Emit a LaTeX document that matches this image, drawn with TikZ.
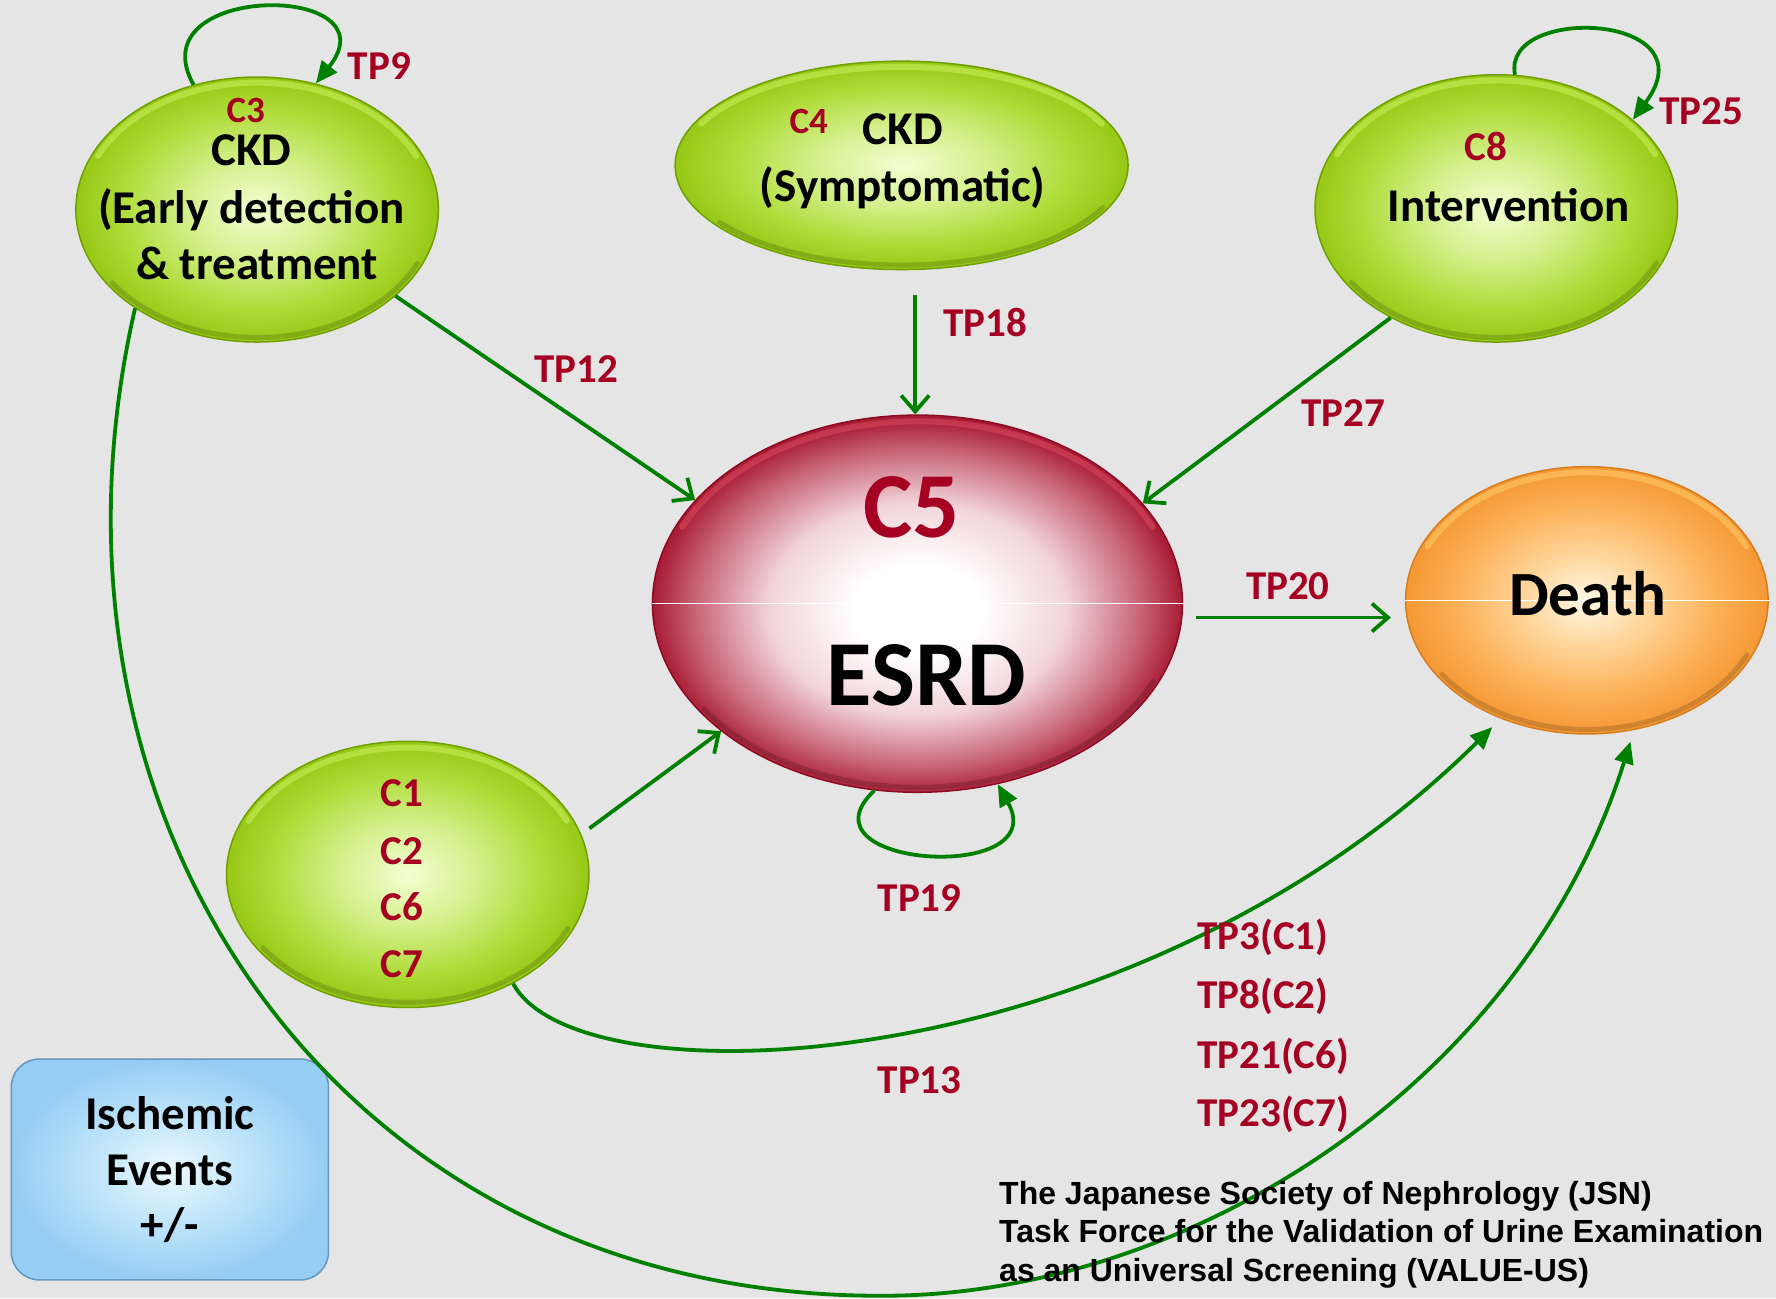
\documentclass[tikz,border=0pt]{standalone}
\usepackage{fontspec}
\setmainfont{Carlito}
\newfontfamily\footfont{Liberation Sans}
\usetikzlibrary{shapes.geometric,arrows.meta,calc}

\definecolor{bgc}{RGB}{229,229,229}
\definecolor{tpred}{RGB}{165,0,33}
\definecolor{arrg}{RGB}{0,128,0}
\definecolor{gA}{RGB}{242,255,210}
\definecolor{gB}{RGB}{214,241,145}
\definecolor{gC}{RGB}{174,219,55}
\definecolor{gD}{RGB}{150,200,22}
\definecolor{gR}{RGB}{112,160,0}
\definecolor{gH}{RGB}{205,240,95}
\definecolor{rA}{RGB}{255,255,255}
\definecolor{rB}{RGB}{242,212,218}
\definecolor{rC}{RGB}{200,100,118}
\definecolor{rD}{RGB}{168,28,52}
\definecolor{rR}{RGB}{140,10,35}
\definecolor{rH}{RGB}{220,75,95}
\definecolor{oA}{RGB}{255,249,230}
\definecolor{oB}{RGB}{255,216,160}
\definecolor{oC}{RGB}{252,176,86}
\definecolor{oD}{RGB}{244,152,52}
\definecolor{oR}{RGB}{215,125,30}
\definecolor{oH}{RGB}{255,205,105}
\definecolor{bA}{RGB}{236,250,255}
\definecolor{bB}{RGB}{192,229,250}
\definecolor{bC}{RGB}{150,205,245}
\definecolor{bR}{RGB}{100,150,190}

\pgfdeclareradialshading{greenball}{\pgfpoint{0bp}{0bp}}{color(0bp)=(gA); color(9bp)=(gB); color(19bp)=(gC); color(25bp)=(gD); color(50bp)=(gD)}
\pgfdeclareradialshading{redball}{\pgfpoint{0bp}{-1bp}}{color(0bp)=(rA); color(6bp)=(rA); color(14bp)=(rB); color(21bp)=(rC); color(25bp)=(rD); color(50bp)=(rD)}
\pgfdeclareradialshading{orangeball}{\pgfpoint{0bp}{0bp}}{color(0bp)=(oA); color(8bp)=(oB); color(18bp)=(oC); color(25bp)=(oD); color(50bp)=(oD)}
\pgfdeclareradialshading{bluebox}{\pgfpoint{0bp}{0bp}}{color(0bp)=(bA); color(12bp)=(bB); color(25bp)=(bC); color(50bp)=(bC)}

\begin{document}
\begin{tikzpicture}[x=1.1327pt,y=1.1327pt,
  gball/.style={ellipse, inner sep=0pt, shading=greenball, draw=gR, line width=1.5pt},
  rball/.style={ellipse, inner sep=0pt, shading=redball, draw=rR, line width=1.5pt},
  oball/.style={ellipse, inner sep=0pt, shading=orangeball, draw=oR, line width=1.5pt},
  bboxst/.style={rectangle, rounded corners=28pt, inner sep=0pt, shading=bluebox, draw=bR, line width=1.5pt},
  hl/.style={line width=6pt, draw opacity=0.55, line cap=round},
  shd/.style={line width=5pt, draw=black, draw opacity=0.15, line cap=round},
  maintxt/.style={font=\fontsize{47}{56}\selectfont\bfseries, text=black, anchor=base, inner sep=0pt},
  clab/.style={font=\fontsize{41}{48}\selectfont\bfseries, text=tpred, anchor=base, inner sep=0pt},
  sclab/.style={font=\fontsize{37}{44}\selectfont\bfseries, text=tpred, anchor=base, inner sep=0pt},
  tplab/.style={font=\fontsize{41}{48}\selectfont\bfseries, text=tpred, anchor=base, inner sep=0pt},
  foot/.style={font=\footfont\fontsize{32}{38}\selectfont\bfseries, text=black, anchor=base west, inner sep=0pt},
  conn/.style={draw=arrg, line width=3.8pt},
  barb/.style={conn, -{Straight Barb[length=16pt,width=28pt,line width=3.8pt]}},
  tri/.style={conn, -{Triangle[length=22pt,width=19pt]}}
]
\path[use as bounding box, fill=bgc] (0,0) rectangle (1568,1146);

% states
\node[gball, minimum width=362.5pt, minimum height=265pt] (c3) at (227,961) {};
\node[gball, minimum width=453pt, minimum height=208.4pt] (c4) at (796,1000) {};
\node[gball, minimum width=362.5pt, minimum height=267.3pt] (c8) at (1321,962) {};
\node[rball, minimum width=530pt, minimum height=377.2pt] (c5) at (810,613) {};
\node[oball, minimum width=362.5pt, minimum height=267.3pt] (death) at (1401,616) {};
\node[gball, minimum width=362.5pt, minimum height=266.2pt] (c1) at (360,374) {};
\node[bboxst, minimum width=317.2pt, minimum height=220.9pt] (isch) at (150,113.5) {};

% bevel highlights and shadows
\draw[hl, draw=gH] (c3.center) ++(155:155 and 112) arc[start angle=155, end angle=25, x radius=155, y radius=112];
\draw[shd] (c3.center) ++(215:156 and 113) arc[start angle=215, end angle=335, x radius=156, y radius=113];
\draw[hl, draw=gH] (c4.center) ++(155:195 and 87) arc[start angle=155, end angle=25, x radius=195, y radius=87];
\draw[shd] (c4.center) ++(215:196 and 88) arc[start angle=215, end angle=335, x radius=196, y radius=88];
\draw[hl, draw=gH] (c8.center) ++(155:155 and 113) arc[start angle=155, end angle=25, x radius=155, y radius=113];
\draw[shd] (c8.center) ++(215:156 and 114) arc[start angle=215, end angle=335, x radius=156, y radius=114];
\draw[hl, draw=gH] (c1.center) ++(155:155 and 112) arc[start angle=155, end angle=25, x radius=155, y radius=112];
\draw[shd] (c1.center) ++(215:156 and 113) arc[start angle=215, end angle=335, x radius=156, y radius=113];
\draw[hl, draw=rH] (c5.center) ++(155:229 and 161) arc[start angle=155, end angle=25, x radius=229, y radius=161];
\draw[shd] (c5.center) ++(215:230 and 162) arc[start angle=215, end angle=335, x radius=230, y radius=162];
\draw[hl, draw=oH] (death.center) ++(155:155 and 113) arc[start angle=155, end angle=25, x radius=155, y radius=113];
\draw[shd] (death.center) ++(215:156 and 114) arc[start angle=215, end angle=335, x radius=156, y radius=114];

% white seam lines
\draw[white, line width=1pt] (c5.west) -- (c5.east);
\draw[white, line width=1pt] (death.west) -- (death.east);

% texts in states
\node[sclab] (c3lab) at (217,1038) {C3};
\node[maintxt] (c3t1) at (222,1000) {CKD};
\node[maintxt] (c3t2) at (222,949) {(Early detection};
\node[maintxt] (c3t3) at (227,899) {\& treatment};

\node[sclab] (c4lab) at (714,1028) {C4};
\node[maintxt] (c4t1) at (797,1018) {CKD};
\node[maintxt] (c4t2) at (797,968) {(Symptomatic)};

\node[clab] (c8lab) at (1312,1004) {C8};
\node[maintxt] (c8t1) at (1332,950) {Intervention};

\node[font=\fontsize{93}{100}\selectfont\bfseries, text=tpred, anchor=base, inner sep=0pt] (c5lab) at (805,671) {C5};
\node[font=\fontsize{93}{100}\selectfont\bfseries, text=black, anchor=base, inner sep=0pt] (c5t) at (818,523) {ESRD};

\node[font=\fontsize{63}{70}\selectfont\bfseries, text=black, anchor=base, inner sep=0pt] (deatht) at (1402,603) {Death};

\node[clab] (c1lab) at (355,434) {C1};
\node[clab] (c2lab) at (355,383) {C2};
\node[clab] (c6lab) at (355,333) {C6};
\node[clab] (c7lab) at (355,283) {C7};

\node[maintxt] (ischt1) at (150,149) {Ischemic};
\node[maintxt] (ischt2) at (150,99) {Events};
\node[maintxt] (ischt3) at (150,51) {+/-};

% connectors
\draw[tri] (c3.117) .. controls (120,1162) and (350,1162) .. (c3.65);
\draw[tri] (c8.82) .. controls (1325,1142) and (1512,1135) .. (c8.33);
\draw[tri] (c5.257) .. controls (700,380) and (930,365) .. (c5.-66);

\draw[barb] (c3.-32) -- (c5.155);
\draw[barb] ($(c4.south)+(12,-22)$) -- ($(c5.north)+(-2,0)$);
\draw[barb] (c8.226) -- (c5.24);
\draw[barb, shorten <=14pt, shorten >=14pt] (c5.-3) -- (c5.-3 -| death.west);
\draw[barb, shorten <=10pt] (c1.13.5) -- (c5.213);

\draw[tri, shorten >=12pt] (c1.-46) .. controls (510,170) and (1000,190) .. (death.234);
\draw[tri, shorten >=12pt] (c3.219) .. controls (15,420) and (300,0) .. (780,2)
   .. controls (1050,2) and (1345,190) .. (death.-70);

% transition labels
\node[tplab] (tp9) at (335,1076) {TP9};
\node[tplab] (tp25) at (1502,1036) {TP25};
\node[tplab] (tp12) at (509,808) {TP12};
\node[tplab] (tp18) at (870,849) {TP18};
\node[tplab] (tp27) at (1186,769) {TP27};
\node[tplab] (tp20) at (1137,617) {TP20};
\node[tplab] (tp19) at (812,341) {TP19};
\node[tplab] (tp13) at (812,181) {TP13};
\node[tplab, anchor=base west] (tp3) at (1057,308) {TP3(C1)};
\node[tplab, anchor=base west] (tp8) at (1057,256) {TP8(C2)};
\node[tplab, anchor=base west] (tp21) at (1057,203) {TP21(C6)};
\node[tplab, anchor=base west] (tp23) at (1057,151) {TP23(C7)};

% footer
\node[foot] (foot1) at (882,83) {The Japanese Society of Nephrology (JSN)};
\node[foot] (foot2) at (882,49) {Task Force for the Validation of Urine Examination};
\node[foot] (foot3) at (882,15) {as an Universal Screening (VALUE-US)};
\end{tikzpicture}
\end{document}
